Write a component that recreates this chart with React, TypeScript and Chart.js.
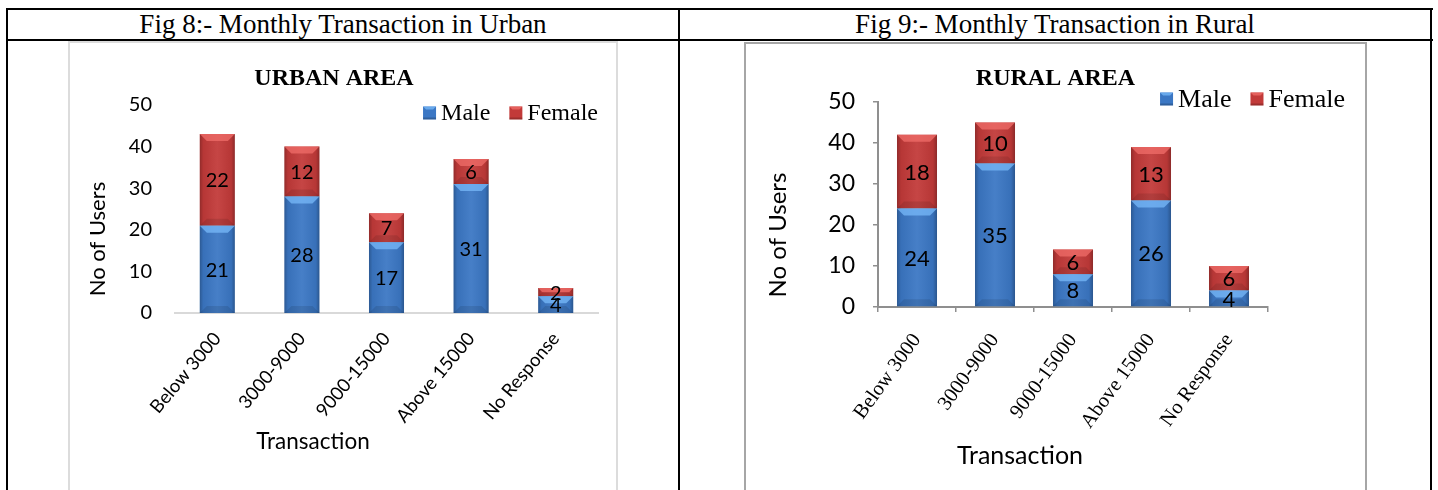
import React, { useEffect, useRef } from "react";
import { Chart, registerables } from "chart.js";

Chart.register(...registerables);
Chart.defaults.font.family = "Lato";

// ---- data ----
const categories = ["Below 3000", "3000-9000", "9000-15000", "Above 15000", "No Response"];
const seriesNames = ["Male", "Female"];
const urbanMale = [21, 28, 17, 31, 4];
const urbanFemale = [22, 12, 7, 6, 2];
const ruralMale = [24, 35, 8, 26, 4];
const ruralFemale = [18, 10, 6, 13, 6];
const yMin = 0;
const yMax = 50;
const yStep = 10;
const xAxisTitle = "Transaction";
const yAxisTitle = "No of Users";

// ---- colours ----
const MALE_FILL = "#3b77c4";
const MALE_LIGHT = "rgba(120,185,250,0.75)";
const FEMALE_FILL = "#c23a39";
const FEMALE_LIGHT = "rgba(240,110,105,0.75)";

// Excel-style bevel shading on top of each bar segment
const bevelPlugin = {
  id: "bevel",
  afterDatasetsDraw(chart: any) {
    const ctx = chart.ctx;
    chart.data.datasets.forEach((ds: any, di: number) => {
      const meta = chart.getDatasetMeta(di);
      if (meta.hidden) return;
      meta.data.forEach((el: any) => {
        const { x, y, base, width } = el.getProps(["x", "y", "base", "width"], true);
        const l = x - width / 2;
        const r = x + width / 2;
        const t = Math.min(y, base);
        const b = Math.max(y, base);
        const h = b - t;
        if (h <= 0) return;
        const d = Math.min(7, h / 2, width / 2);
        ctx.save();
        const g = ctx.createLinearGradient(l, 0, r, 0);
        g.addColorStop(0, "rgba(0,0,0,0.25)");
        g.addColorStop(0.1, "rgba(0,0,0,0.06)");
        g.addColorStop(0.5, "rgba(255,255,255,0.06)");
        g.addColorStop(0.9, "rgba(0,0,0,0.06)");
        g.addColorStop(1, "rgba(0,0,0,0.28)");
        ctx.fillStyle = g;
        ctx.fillRect(l, t, width, h);
        ctx.beginPath();
        ctx.moveTo(l, t);
        ctx.lineTo(r, t);
        ctx.lineTo(r - d, t + d);
        ctx.lineTo(l + d, t + d);
        ctx.closePath();
        ctx.fillStyle = ds.bevelLight;
        ctx.fill();
        ctx.beginPath();
        ctx.moveTo(l, b);
        ctx.lineTo(r, b);
        ctx.lineTo(r - d, b - d);
        ctx.lineTo(l + d, b - d);
        ctx.closePath();
        ctx.fillStyle = "rgba(0,0,0,0.10)";
        ctx.fill();
        ctx.restore();
      });
    });
  },
};

// value written in the middle of each stacked segment
const valueLabelPlugin = {
  id: "valueLabels",
  afterDatasetsDraw(chart: any, _args: any, opts: any) {
    const ctx = chart.ctx;
    ctx.save();
    ctx.font = `${opts.size}px ${opts.family}`;
    ctx.fillStyle = "#000";
    ctx.textAlign = "center";
    ctx.textBaseline = "middle";
    chart.data.datasets.forEach((ds: any, di: number) => {
      const meta = chart.getDatasetMeta(di);
      meta.data.forEach((el: any, i: number) => {
        const { x, y, base } = el.getProps(["x", "y", "base"], true);
        ctx.fillText(String(ds.data[i]), x, (y + base) / 2 + 1);
      });
    });
    ctx.restore();
  },
};

// horizontal series key, right-aligned at a given point
const sideLegendPlugin = {
  id: "sideLegend",
  afterDraw(chart: any, _args: any, opts: any) {
    const ctx = chart.ctx;
    ctx.save();
    ctx.font = `${opts.size}px ${opts.family}`;
    ctx.textBaseline = "middle";
    ctx.textAlign = "left";
    const items = chart.data.datasets.map((ds: any) => ({
      text: ds.label,
      color: ds.backgroundColor,
      lite: ds.bevelLight,
    }));
    const widths = items.map((it: any) => opts.box + opts.boxGap + ctx.measureText(it.text).width);
    const total = widths.reduce((a: number, b: number) => a + b, 0) + opts.itemGap * (items.length - 1);
    let cx = opts.right - total;
    items.forEach((it: any, i: number) => {
      const top = opts.y - opts.box / 2;
      const s = opts.box;
      ctx.fillStyle = it.color;
      ctx.fillRect(cx, top, s, s);
      ctx.beginPath();
      ctx.moveTo(cx, top);
      ctx.lineTo(cx + s, top);
      ctx.lineTo(cx + s - 3, top + 3);
      ctx.lineTo(cx + 3, top + 3);
      ctx.closePath();
      ctx.fillStyle = it.lite;
      ctx.fill();
      ctx.fillStyle = "rgba(0,0,0,0.2)";
      ctx.fillRect(cx, top + s - 2, s, 2);
      ctx.fillStyle = "#000";
      ctx.fillText(it.text, cx + s + opts.boxGap, opts.y + 1);
      cx += widths[i] + opts.itemGap;
    });
    ctx.restore();
  },
};

// axis captions, placed where the workbook put them (not centred on the plot)
const axisCaptionPlugin = {
  id: "axisCaptions",
  afterDraw(chart: any, _args: any, opts: any) {
    const ctx = chart.ctx;
    ctx.save();
    ctx.fillStyle = "#000";
    ctx.textAlign = "center";
    ctx.textBaseline = "middle";
    ctx.font = `${opts.xSize}px ${opts.family}`;
    ctx.fillText(opts.xText, opts.xAt[0], opts.xAt[1]);
    ctx.translate(opts.yAt[0], opts.yAt[1]);
    ctx.rotate(-Math.PI / 2);
    ctx.font = `${opts.ySize}px ${opts.family}`;
    ctx.fillText(opts.yText, 0, 0);
    ctx.restore();
  },
};

function buildConfig(p: any) {
  const scales: any = {
    x: {
      stacked: true,
      offset: true,
      grid: p.framed
        ? { display: true, drawOnChartArea: false, drawTicks: true, tickLength: 5, color: p.axisColor, lineWidth: 1.5 }
        : { display: false, drawTicks: false },
      border: { display: true, color: p.axisColor, width: 2 },
      ticks: {
        autoSkip: false,
        minRotation: p.xRotation,
        maxRotation: p.xRotation,
        padding: p.xTickPad,
        color: "#000",
        font: { family: p.xTickFamily, size: p.xTickSize },
      },
      title: { display: false },
      afterFit: (s: any) => {
        s.height = p.xHeight;
      },
    },
    y: {
      stacked: true,
      min: yMin,
      max: yMax,
      grid: p.framed
        ? { display: true, drawOnChartArea: false, drawTicks: true, tickLength: 5, color: p.axisColor, lineWidth: 1.5 }
        : { display: false, drawTicks: false },
      border: { display: p.framed, color: p.axisColor, width: 2 },
      ticks: {
        stepSize: yStep,
        padding: p.yTickPad,
        color: "#000",
        font: { family: "Lato", size: p.yTickSize },
      },
      title: { display: false },
      afterFit: (s: any) => {
        s.width = p.yWidth;
      },
    },
  };
  if (p.rightSpace) {
    scales.spacer = {
      type: "linear",
      position: "right",
      display: true,
      grid: { display: false, drawTicks: false },
      border: { display: false },
      ticks: { display: false },
      afterFit: (s: any) => {
        s.width = p.rightSpace;
      },
    };
  }
  return {
    type: "bar",
    data: {
      labels: categories,
      datasets: [
        {
          label: seriesNames[0],
          data: p.male,
          backgroundColor: MALE_FILL,
          bevelLight: MALE_LIGHT,
          barPercentage: p.barPct,
          categoryPercentage: 1,
        },
        {
          label: seriesNames[1],
          data: p.female,
          backgroundColor: FEMALE_FILL,
          bevelLight: FEMALE_LIGHT,
          barPercentage: p.barPct,
          categoryPercentage: 1,
        },
      ],
    },
    options: {
      responsive: false,
      animation: false,
      layout: { padding: { left: 0, right: p.rightPad, top: 0, bottom: 0 } },
      plugins: {
        legend: { display: false },
        tooltip: { enabled: false },
        title: {
          display: true,
          text: p.title,
          color: "#000",
          font: { family: "Liberation Serif", size: 24, weight: "bold" },
          padding: { top: p.titleTop, bottom: p.titleBottom },
        },
        valueLabels: { size: p.valueSize, family: "Lato" },
        sideLegend: {
          size: p.legendSize,
          family: "Liberation Serif",
          right: p.legendRight,
          y: p.legendY,
          box: 13,
          boxGap: 5,
          itemGap: 19,
        },
        axisCaptions: {
          family: "Lato",
          xText: xAxisTitle,
          yText: yAxisTitle,
          xSize: p.xTitleSize,
          ySize: p.yTitleSize,
          xAt: p.xTitleAt,
          yAt: p.yTitleAt,
        },
      },
      scales,
    },
    plugins: [bevelPlugin, valueLabelPlugin, sideLegendPlugin, axisCaptionPlugin],
  };
}

const urbanSetup = {
  title: "URBAN AREA",
  male: urbanMale,
  female: urbanFemale,
  framed: false,
  axisColor: "#d9d9d9",
  barPct: 0.414,
  rightPad: 17,
  rightSpace: 0,
  yWidth: 105,
  xHeight: 177,
  yTickPad: 23,
  yTickSize: 20,
  xRotation: 50,
  xTickPad: 15,
  xTickSize: 18.5,
  xTickFamily: "Lato",
  xTitleSize: 22.5,
  yTitleSize: 22,
  xTitleAt: [243, 399],
  yTitleAt: [28, 196],
  titleTop: 21.1,
  titleBottom: 12.1,
  valueSize: 20,
  legendSize: 24,
  legendRight: 528,
  legendY: 70,
};

const ruralSetup = {
  title: "RURAL AREA",
  male: ruralMale,
  female: ruralFemale,
  framed: true,
  axisColor: "#8f8f8f",
  barPct: 0.513,
  rightPad: 0,
  rightSpace: 97,
  yWidth: 132,
  xHeight: 183,
  yTickPad: 18,
  yTickSize: 23,
  xRotation: 54,
  xTickPad: 17,
  xTickSize: 20.5,
  xTickFamily: "Liberation Serif",
  xTitleSize: 25,
  yTitleSize: 24,
  xTitleAt: [274, 412],
  yTitleAt: [32, 191],
  titleTop: 20.6,
  titleBottom: 8.6,
  valueSize: 22,
  legendSize: 26,
  legendRight: 599,
  legendY: 55,
};

function BarPanel({ setup, x, y, w, h }: any) {
  const ref = useRef<HTMLCanvasElement | null>(null);
  useEffect(() => {
    if (!ref.current) return;
    const chart = new Chart(ref.current, buildConfig(setup) as any);
    return () => chart.destroy();
  }, [setup]);
  return (
    <canvas
      ref={ref}
      width={w}
      height={h}
      style={{ position: "absolute", left: x, top: y, width: w, height: h }}
    />
  );
}

const line = (left: number, top: number, width: number, height: number, color = "#000") => (
  <div style={{ position: "absolute", left, top, width, height, background: color }} />
);

const headerStyle = (left: number, width: number): any => ({
  position: "absolute",
  left,
  top: 10,
  width,
  height: 29,
  lineHeight: "29px",
  textAlign: "center",
  fontSize: 27,
  color: "#000",
  whiteSpace: "nowrap",
});

export default function App() {
  return (
    <div
      style={{
        position: "absolute",
        left: 0,
        top: 0,
        width: 1438,
        height: 490,
        overflow: "hidden",
        background: "#fff",
        fontFamily: "'Liberation Serif', serif",
      }}
    >
      {/* table frame */}
      {line(6, 8, 1427, 2)}
      {line(6, 39, 1427, 2)}
      {line(6, 8, 2, 482)}
      {line(678, 8, 2, 482)}
      {line(1430, 8, 2, 482)}

      <div style={headerStyle(8, 670)}>Fig 8:- Monthly Transaction in Urban</div>
      <div style={headerStyle(680, 750)}>Fig 9:- Monthly Transaction in Rural</div>

      {/* chart frames */}
      <div
        style={{
          position: "absolute",
          left: 68,
          top: 41,
          width: 546,
          height: 470,
          border: "2px solid #dcdcdc",
        }}
      />
      <div
        style={{
          position: "absolute",
          left: 744,
          top: 42,
          width: 619,
          height: 470,
          border: "2px solid #a6a6a6",
        }}
      />

      <BarPanel setup={urbanSetup} x={70} y={43} w={545} h={447} />
      <BarPanel setup={ruralSetup} x={746} y={44} w={619} h={446} />
    </div>
  );
}
